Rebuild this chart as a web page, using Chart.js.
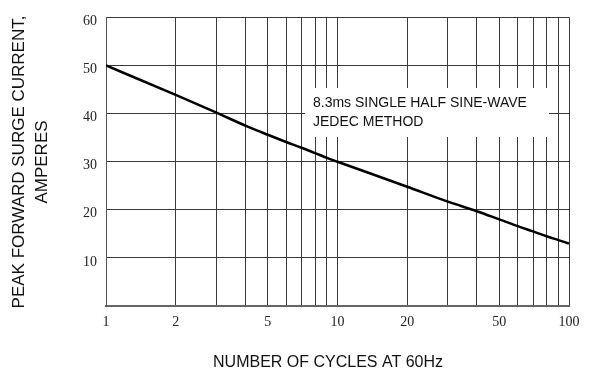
<!DOCTYPE html>
<html>
<head>
<meta charset="utf-8">
<script src="https://cdn.jsdelivr.net/npm/chart.js@4/dist/chart.umd.min.js"></script>
<style>
  body { margin: 0; background: #fff; }
  #wrap { width: 592px; height: 376px; }
</style>
</head>
<body>
<div id="wrap"><canvas id="surgeChart" width="592" height="376"></canvas></div>
<script>
const cycles = [1, 2, 3, 4, 5, 6, 7, 8, 9, 10, 20, 30, 40, 50, 60, 70, 80, 90, 100];
const surgeCurrent = [50, 43.9, 40.2, 37.5, 35.6, 34.1, 32.9, 31.8, 30.8, 30, 24.8, 21.7, 19.7, 18, 16.6, 15.5, 14.5, 13.7, 13.0];
const xGridValues = [1, 2, 3, 4, 5, 6, 7, 8, 9, 10, 20, 30, 40, 50, 60, 70, 80, 90, 100];
const xTickLabels = [1, 2, 5, 10, 20, 50, 100];
const yTickLabels = [10, 20, 30, 40, 50, 60];
const yTitleLines = ['PEAK FORWARD SURGE CURRENT,', 'AMPERES'];
const xTitle = 'NUMBER OF CYCLES AT 60Hz';
const noteLines = ['8.3ms SINGLE HALF SINE-WAVE', 'JEDEC METHOD'];

const gridColor = '#3a3a3a';

// white note box over the grid + axis titles
const extraText = {
    id: 'extraText',
    beforeDatasetsDraw(chart) {
        const ctx = chart.ctx;
        ctx.save();
        ctx.fillStyle = '#fff';
        ctx.fillRect(305, 88, 244, 49);
        ctx.fillStyle = '#111';
        ctx.font = '14px "Liberation Sans", Arial, sans-serif';
        ctx.textAlign = 'left';
        ctx.textBaseline = 'alphabetic';
        ctx.fillText(noteLines[0], 313, 106.5);
        ctx.fillText(noteLines[1], 313, 125.5);
        ctx.restore();
    },
    afterDraw(chart) {
        const ctx = chart.ctx;
        ctx.save();
        ctx.fillStyle = '#111';
        ctx.textAlign = 'center';
        ctx.textBaseline = 'middle';
        ctx.font = '16px "Liberation Sans", Arial, sans-serif';
        ctx.fillText(xTitle, 328, 363);
        ctx.translate(0, 162);
        ctx.rotate(-Math.PI / 2);
        ctx.font = '17px "Liberation Sans", Arial, sans-serif';
        ctx.fillText(yTitleLines[0], 0, 19);
        ctx.fillText(yTitleLines[1], 0, 42);
        ctx.restore();
    }
};

const ctx = document.getElementById('surgeChart').getContext('2d');
const surgeChart = new Chart(ctx, {
    type: 'line',
    data: {
        datasets: [{
            data: cycles.map((c, i) => ({ x: c, y: surgeCurrent[i] })),
            borderColor: '#000',
            borderWidth: 2.5,
            pointRadius: 0,
            cubicInterpolationMode: 'monotone',
            fill: false
        }]
    },
    options: {
        responsive: false,
        animation: false,
        layout: { padding: { top: 12, right: 23, left: 0, bottom: 0 } },
        plugins: { legend: { display: false }, tooltip: { enabled: false } },
        scales: {
            x: {
                type: 'logarithmic',
                min: 1,
                max: 100,
                afterBuildTicks: scale => {
                    scale.ticks = xGridValues.map(v => ({ value: v }));
                },
                afterFit: scale => { scale.height = 70; },
                ticks: {
                    autoSkip: false,
                    maxRotation: 0,
                    padding: 8,
                    color: '#222',
                    font: { family: '"Liberation Serif", "Times New Roman", serif', size: 14 },
                    callback: v => xTickLabels.includes(v) ? String(v) : ''
                },
                grid: { color: gridColor, lineWidth: 1, drawTicks: false },
                border: { color: '#666', width: 2 }
            },
            y: {
                min: 0,
                max: 60,
                afterBuildTicks: scale => {
                    scale.ticks = [0].concat(yTickLabels).map(v => ({ value: v }));
                },
                afterFit: scale => { scale.width = 106; },
                ticks: {
                    padding: 9,
                    labelOffset: 4,
                    color: '#222',
                    font: { family: '"Liberation Serif", "Times New Roman", serif', size: 14 },
                    callback: v => yTickLabels.includes(v) ? String(v) : ''
                },
                grid: { color: gridColor, lineWidth: 1, drawTicks: false },
                border: { color: '#555', width: 1 }
            }
        }
    },
    plugins: [extraText]
});
</script>
</body>
</html>
